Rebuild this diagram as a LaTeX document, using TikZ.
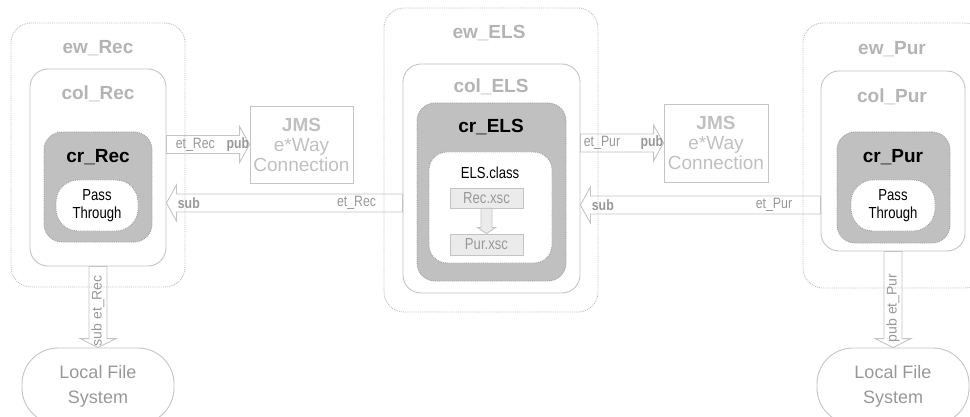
\documentclass[tikz,border=0pt]{standalone}
\usepackage{fontspec}
\setmainfont{Liberation Sans}
\newfontfamily\narrowfont{Liberation Sans}[FakeStretch=0.82]
\usetikzlibrary{calc}
\definecolor{linegray}{HTML}{C4C4C4}
\definecolor{dotgray}{HTML}{BDBDBD}
\definecolor{crgray}{HTML}{C0C0C0}
\definecolor{titlegray}{HTML}{B4B4B4}
\definecolor{jmsgray}{HTML}{C0C0C0}
\definecolor{labgray}{HTML}{989898}
\definecolor{xscfill}{HTML}{EBEBEB}
\newcommand{\fatarrow}[6][fat]{%
\coordinate (head) at ($(#6)!#4pt!(#5)$);
\draw[#1] ($(#5)!#2pt!90:(#6)$) -- ($(head)!#2pt!90:(#6)$) -- ($(head)!#3pt!90:(#6)$) -- (#6)
  -- ($(head)!#3pt!-90:(#6)$) -- ($(head)!#2pt!-90:(#6)$) -- ($(#5)!#2pt!-90:(#6)$) -- cycle;}

\begin{document}
\begin{tikzpicture}[x=1pt,y=-1pt,line width=0.9pt,
  ew/.style={draw=dotgray,densely dotted,rounded corners=20pt,fill=white,inner sep=0pt},
  col/.style={draw=linegray,rounded corners=18pt,fill=white,inner sep=0pt},
  cr/.style={draw=gray!75,densely dotted,fill=crgray,rounded corners=18pt,inner sep=0pt},
  pass/.style={draw=gray!75,densely dotted,fill=white,rounded corners=22pt,inner sep=0pt,align=center,font=\narrowfont\fontsize{16}{18}\selectfont},
  jms/.style={draw=linegray,inner sep=0pt,align=center,text=jmsgray,font=\fontsize{19}{20}\selectfont},
  lfs/.style={draw=linegray,rounded corners=36pt,inner sep=0pt,align=center,text=labgray,font=\fontsize{18}{25}\selectfont},
  title/.style={text=titlegray,font=\bfseries\fontsize{19}{19}\selectfont},
  crtitle/.style={font=\bfseries\fontsize{19}{19}\selectfont},
  xsc/.style={draw=linegray,fill=xscfill,inner sep=0pt,text=gray!80,font=\narrowfont\fontsize{16}{16}\selectfont},
  fat/.style={draw=linegray},
  smallfat/.style={draw=linegray,fill=xscfill},
  lab/.style={text=labgray,inner sep=0pt,font=\narrowfont\fontsize{15}{15}\selectfont},
  blab/.style={text=labgray,inner sep=0pt,font=\narrowfont\bfseries\fontsize{15}{15}\selectfont},
  vlab/.style={text=labgray,inner sep=0pt,rotate=90,anchor=west,font=\fontsize{14}{14}\selectfont}]
\useasboundingbox (0,0) rectangle (970,417);
\clip (0,0) rectangle (970,417);
\node[ew,minimum width=174pt,minimum height=264pt] (ewRec) at (98,155) {};
\node[ew,minimum width=214pt,minimum height=304pt] (ewELS) at (491,160) {};
\node[ew,minimum width=182pt,minimum height=265pt] (ewPur) at (894,155.5) {};
\node[col,minimum width=136pt,minimum height=197pt] (colRec) at (98,167.5) {};
\node[col,minimum width=177pt,minimum height=229pt] (colELS) at (491.5,178.5) {};
\node[col,minimum width=144pt,minimum height=180pt] (colPur) at (893,161) {};
\node[cr,minimum width=108pt,minimum height=110pt] (crRec) at (98,187) {};
\node[cr,minimum width=149pt,minimum height=178pt] (crELS) at (491.5,192) {};
\node[cr,minimum width=113pt,minimum height=111pt] (crPur) at (893.5,187.5) {};
\node[pass,minimum width=82pt,minimum height=51pt] (ptRec) at (97,205.5) {Pass\\Through};
\node[pass,minimum width=84pt,minimum height=51pt] (ptPur) at (893,205.5) {Pass\\Through};
\node[pass,rounded corners=18pt,minimum width=123pt,minimum height=111pt] (clsELS) at (490.5,207.5) {};
\node[xsc,minimum width=73pt,minimum height=20pt] (recX) at (486.5,198) {Rec.xsc};
\node[xsc,minimum width=73pt,minimum height=21pt] (purX) at (486.5,244.5) {Pur.xsc};
\node[jms,minimum width=103pt,minimum height=77pt] (jmsRec) at (301.5,144.5) {\textbf{JMS}\\e*Way\\Connection};
\node[jms,minimum width=104pt,minimum height=78pt] (jmsPur) at (716,143) {\textbf{JMS}\\e*Way\\Connection};
\node[lfs,minimum width=152pt,minimum height=76pt] (lfsRec) at (98,386) {Local File\\System};
\node[lfs,minimum width=152pt,minimum height=76pt] (lfsPur) at (893,386) {Local File\\System};

\node[title] at (98,48) {ew\_Rec};
\node[title] at (98,94) {col\_Rec};
\node[crtitle] at (98,157) {cr\_Rec};
\node[title] at (489,33) {ew\_ELS};
\node[title] at (491,87) {col\_ELS};
\node[crtitle] at (491,127) {cr\_ELS};
\node[font=\narrowfont\fontsize{16}{16}\selectfont] at (490,173) {ELS.class};
\node[title] at (892,49) {ew\_Pur};
\node[title] at (892,97) {col\_Pur};
\node[crtitle] at (893,157) {cr\_Pur};

\coordinate (pubRecA) at (colRec.east |- jmsRec.west);
\coordinate (subRecA) at ($(colELS.west)+(0,24.5)$);
\coordinate (subRecB) at (colRec.east |- subRecA);
\coordinate (pubPurA) at (colELS.east |- jmsPur.west);
\coordinate (subPurA) at ($(colPur.west)+(0,44)$);
\coordinate (subPurB) at (colELS.east |- subPurA);
\fatarrow{9}{18}{10}{pubRecA}{jmsRec.west}
\fatarrow{9}{18}{10}{subRecA}{subRecB}
\fatarrow{9}{18}{10}{pubPurA}{jmsPur.west}
\fatarrow{9}{18}{10}{subPurA}{subPurB}
\fatarrow{9}{18}{9}{colRec.south}{lfsRec.north}
\fatarrow{9}{18}{9}{colPur.south}{lfsPur.north}
\fatarrow[smallfat]{5.5}{9}{6}{recX.south}{purX.north}

\node[lab,anchor=west] at ($(pubRecA)+(9,0)$) {et\_Rec};
\node[blab,anchor=east] at (jmsRec.west) {pub};
\node[blab,anchor=west] at ($(subRecB)+(11,0)$) {sub};
\node[lab,anchor=east] at ($(subRecA)+(-26,0)$) {et\_Rec};
\node[lab,anchor=west] at ($(pubPurA)+(3,0)$) {et\_Pur};
\node[blab,anchor=east] at (jmsPur.west) {pub};
\node[blab,anchor=west] at ($(subPurB)+(11,0)$) {sub};
\node[lab,anchor=east] at ($(subPurA)+(-28,0)$) {et\_Pur};
\node[vlab] at ($(lfsRec.north)+(0,-1)$) {sub et\_Rec};
\node[vlab] at ($(lfsPur.north)+(0,-5)$) {pub et\_Pur};
\end{tikzpicture}
\end{document}
